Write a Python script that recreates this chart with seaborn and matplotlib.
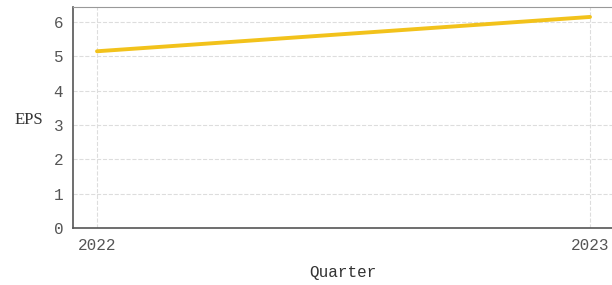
import pandas as pd
import seaborn as sns
import matplotlib.pyplot as plt

years = [2022, 2023]
eps = [5.15, 6.15]
tick_labels = ['2022', '2023']

df = pd.DataFrame({'Quarter': years, 'EPS': eps})

sns.set_style('white')
plt.rcParams['font.family'] = ['Liberation Mono', 'DejaVu Sans Mono']

fig = plt.figure(figsize=(6.12, 2.85), dpi=100)
ax = fig.add_axes([73/612, 1 - 228/285, 539/612, 221/285])

sns.lineplot(data=df, x='Quarter', y='EPS', color='#f2c21b', linewidth=2.8, ax=ax)

ax.set_xlim(2022 - 24/493, 2023 + 22/493)
ax.set_ylim(0, 6.44)
ax.set_xticks(years)
ax.set_xticklabels(tick_labels)
ax.set_yticks(range(0, 7))

ax.grid(True, linestyle='--', color='#dddddd', linewidth=0.8)
ax.set_axisbelow(True)
for s in ['left', 'bottom']:
    ax.spines[s].set_color('#555555')
    ax.spines[s].set_linewidth(1.2)
ax.spines['top'].set_color('#999999')
ax.spines['right'].set_visible(False)

ax.tick_params(axis='both', length=4, width=1, color='#555555', labelsize=11.5,
               labelcolor='#555555', direction='out', pad=3)
ax.set_xlabel('Quarter', fontsize=11.5, color='#333333', labelpad=9)
ax.set_ylabel('EPS', fontsize=12, color='#333333', rotation=0,
              va='center', family=['Liberation Serif'])
ax.yaxis.set_label_coords(-0.082, 0.49)

plt.savefig('out.png', dpi=100)
